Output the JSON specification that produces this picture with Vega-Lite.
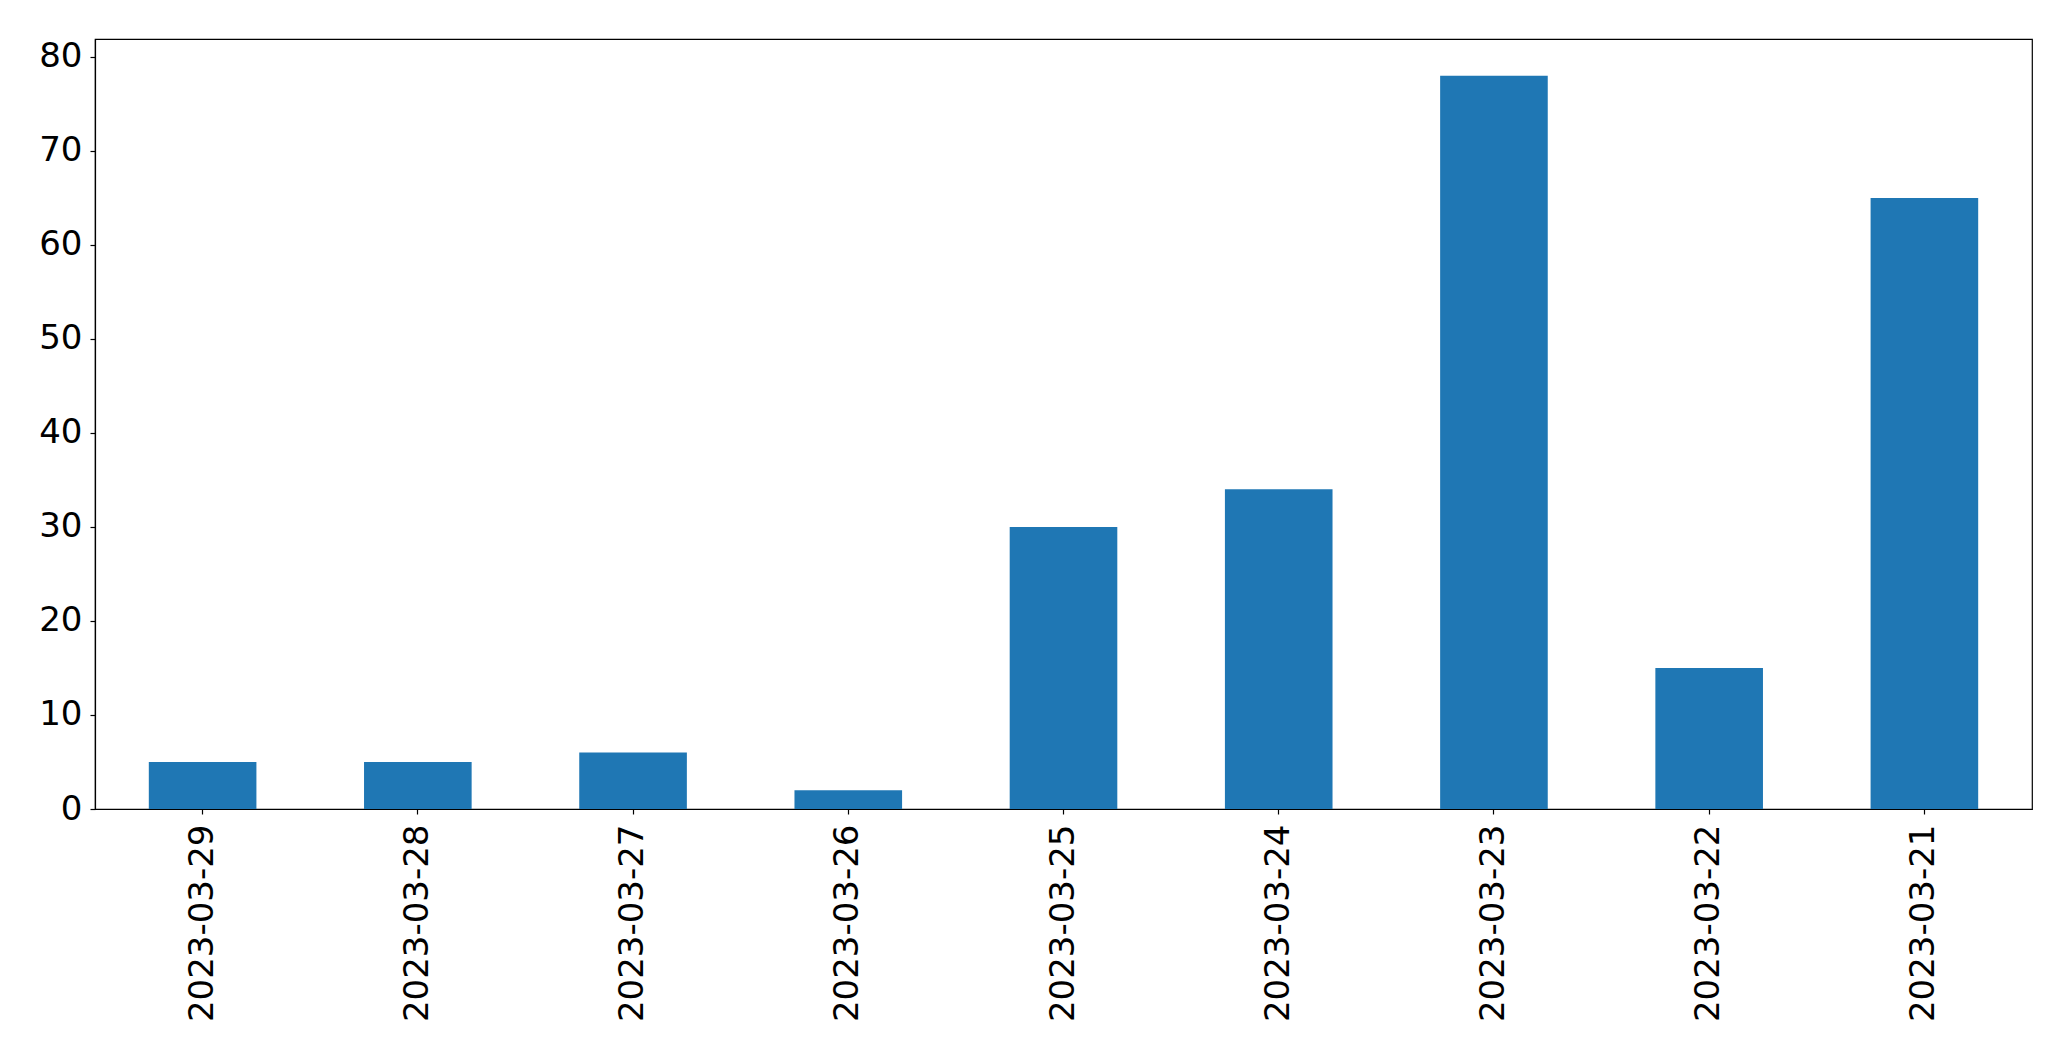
{
  "$schema": "https://vega.github.io/schema/vega-lite/v6.json",
  "autosize": {"type": "none"},
  "padding": {"left": 95, "top": 39, "right": 39, "bottom": 252},
  "width": 1937,
  "height": 770,
  "background": "white",
  "config": {
    "view": {"stroke": "black", "strokeWidth": 1.2},
    "axis": {
      "labelFont": "DejaVu Sans",
      "labelFontSize": 34,
      "labelColor": "black",
      "labelLimit": 0,
      "domainColor": "black",
      "domainWidth": 1.2,
      "tickColor": "black",
      "tickWidth": 1.2,
      "tickSize": 5,
      "grid": false,
      "title": null
    }
  },
  "data": {
    "values": [
      {"date": "2023-03-29", "count": 5},
      {"date": "2023-03-28", "count": 5},
      {"date": "2023-03-27", "count": 6},
      {"date": "2023-03-26", "count": 2},
      {"date": "2023-03-25", "count": 30},
      {"date": "2023-03-24", "count": 34},
      {"date": "2023-03-23", "count": 78},
      {"date": "2023-03-22", "count": 15},
      {"date": "2023-03-21", "count": 65}
    ]
  },
  "mark": {"type": "bar", "color": "#1f77b4"},
  "encoding": {
    "x": {
      "field": "date",
      "type": "nominal",
      "sort": null,
      "scale": {"paddingInner": 0.5, "paddingOuter": 0.25},
      "axis": {"labelAngle": -90, "labelPadding": 10, "labelAlign": "right", "labelBaseline": "middle", "labelLimit": 0}
    },
    "y": {
      "field": "count",
      "type": "quantitative",
      "scale": {"domain": [0, 81.9], "nice": false},
      "axis": {"values": [0, 10, 20, 30, 40, 50, 60, 70, 80], "labelPadding": 8}
    }
  }
}
